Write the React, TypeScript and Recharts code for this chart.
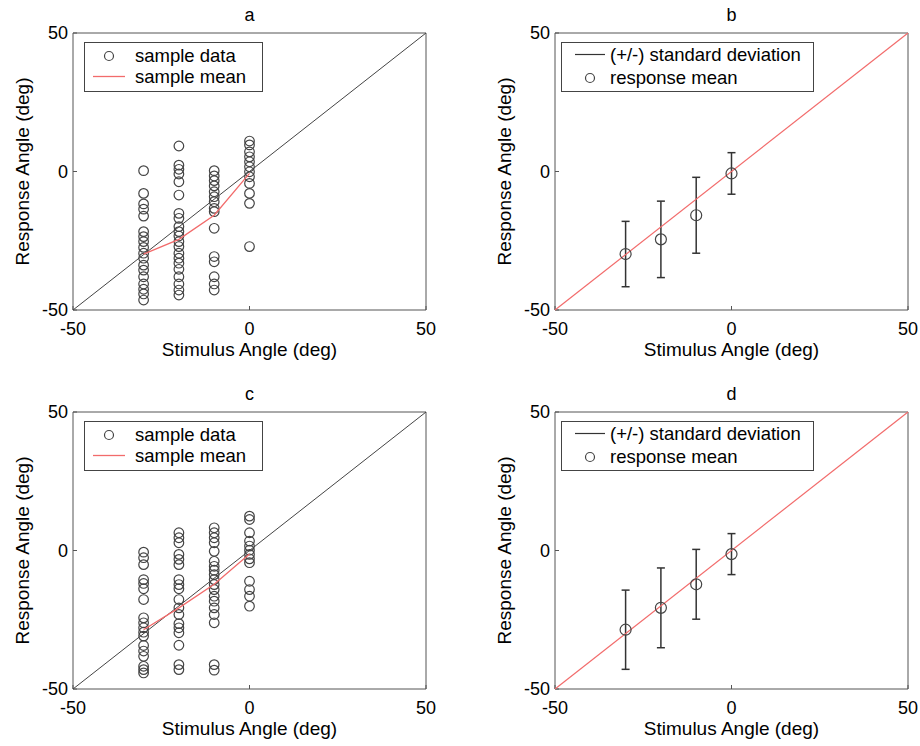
import { ScatterChart, Scatter, XAxis, YAxis, ErrorBar, Label } from "recharts"

const stimulusLevels = [-30, -20, -10, 0]
const axisTicks = [-50, 0, 50]
const identityEnds = [-50, 50]

// raw responses for the first condition, one list per stimulus level
const responsesA = [
  [0.3, -7.9, -11.7, -13.6, -16.1, -21.7, -23.5, -25.3, -27.4, -29.5, -31.3, -33.8, -35.6, -38, -40.6, -42.5, -44.2, -46.4],
  [9.2, 2.3, 0.8, -0.9, -3.7, -8.5, -15.1, -16.9, -19.9, -21.7, -23.3, -25.3, -27.1, -29.5, -31.3, -33.1, -35.3, -38, -40.6, -42.8, -44.6],
  [0.3, -1.6, -3.3, -5.2, -7.3, -9.1, -10.9, -13.3, -14.5, -20.5, -30.7, -32.6, -38, -40.6, -42.8],
  [11, 9.6, 7.1, 5.3, 3.5, 1.7, -0.1, -1.9, -4.3, -7.9, -11.5, -27.1],
]

// raw responses for the second condition
const responsesC = [
  [-0.6, -2.6, -5.1, -10.5, -11.9, -13.8, -17.7, -24.3, -26.1, -27.9, -29.5, -30.9, -34.3, -36.3, -38.2, -41.8, -43, -44.2],
  [6.4, 4.6, 2.8, -1.4, -3.2, -5.1, -10.5, -12.3, -13.8, -17.7, -20.7, -23.1, -26.4, -27.9, -29.7, -34.2, -41.2, -43],
  [8.2, 6.4, 4.6, 2.8, -0.3, -3.9, -5.7, -7.1, -8.7, -10.5, -12.3, -14.1, -16.5, -18.3, -20.7, -23.1, -26.1, -41.2, -43.2],
  [12.4, 11.2, 6.4, 3.4, 1.6, 0.1, -1.4, -3, -4.4, -11.1, -14.1, -16.5, -20.1],
]

const meanA = [-29.8, -24.5, -15.8, -0.7]
const stdA = [11.8, 13.8, 13.7, 7.5]
const meanC = [-28.6, -20.7, -12.2, -1.3]
const stdC = [14.3, 14.4, 12.6, 7.4]

const FONT = '"Liberation Sans", Arial, Helvetica, sans-serif'
const frameColor = "#555"
const redLine = "#f26b6b"

const toPoints = (lists: number[][]) =>
  lists.flatMap((list, i) => list.map((y) => ({ x: stimulusLevels[i], y })))
const meanPoints = (means: number[], stds?: number[]) =>
  means.map((y, i) => ({ x: stimulusLevels[i], y, err: stds ? stds[i] : 0 }))
const identity = identityEnds.map((v) => ({ x: v, y: v }))

const noShape = () => <g />
const openCircle = (r: number) => (p: any) =>
  <circle cx={p.cx} cy={p.cy} r={r} fill="none" stroke="#444" strokeWidth={1.2} />

// bottom/left axes carry labels, top/right ones only close the box
const renderAxes = (title: string) => [
  <XAxis key="xb" type="number" dataKey="x" domain={[-50, 50]} ticks={axisTicks} height={50}
    tickSize={-4} tickMargin={16} stroke={frameColor} tick={{ fill: "#000", fontSize: 18 }}>
    <Label value="Stimulus Angle (deg)" position="insideBottom" offset={4} fill="#000" fontSize={19} />
  </XAxis>,
  <XAxis key="xt" xAxisId="top" orientation="top" type="number" domain={[-50, 50]} ticks={axisTicks}
    height={1} tick={false} tickSize={-4} stroke={frameColor}>
    <Label value={title} position="top" offset={11} fill="#000" fontSize={18} />
  </XAxis>,
  <YAxis key="yl" type="number" dataKey="y" domain={[-50, 50]} ticks={axisTicks} width={60}
    tickSize={-4} tickMargin={9} stroke={frameColor} tick={{ fill: "#000", fontSize: 18 }}>
    <Label value="Response Angle (deg)" position="insideLeft" angle={-90} offset={9} fill="#000"
      fontSize={19} style={{ textAnchor: "middle" }} />
  </YAxis>,
  <YAxis key="yr" yAxisId="right" orientation="right" type="number" domain={[-50, 50]} ticks={axisTicks}
    width={1} tick={false} tickSize={-4} stroke={frameColor} />,
]

function SampleLegend({ x, y }: { x: number; y: number }) {
  return (
    <svg style={{ position: "absolute", left: x, top: y }} width={180} height={51}>
      <rect x={0.5} y={0.5} width={178} height={49} fill="#fff" stroke="#444" />
      <circle cx={25} cy={14} r={4.5} fill="none" stroke="#444" strokeWidth={1.2} />
      <text x={51} y={14} dy="0.35em" fontSize={18.5} fontFamily={FONT}>sample data</text>
      <line x1={9} x2={41} y1={34.5} y2={34.5} stroke={redLine} strokeWidth={1.3} />
      <text x={51} y={34.5} dy="0.35em" fontSize={18.5} fontFamily={FONT}>sample mean</text>
    </svg>
  )
}

function SummaryLegend({ x, y }: { x: number; y: number }) {
  return (
    <svg style={{ position: "absolute", left: x, top: y }} width={254} height={51}>
      <rect x={0.5} y={0.5} width={252} height={49} fill="#fff" stroke="#444" />
      <line x1={14} x2={44} y1={12.5} y2={12.5} stroke="#333" strokeWidth={1.2} />
      <text x={49} y={12.5} dy="0.35em" fontSize={18.5} fontFamily={FONT}>(+/-) standard deviation</text>
      <circle cx={29} cy={36} r={4.5} fill="none" stroke="#444" strokeWidth={1.2} />
      <text x={49} y={36} dy="0.35em" fontSize={18.5} fontFamily={FONT}>response mean</text>
    </svg>
  )
}

function SamplePanel({ top, title, responses, means }: { top: number; title: string; responses: number[][]; means: number[] }) {
  return (
    <div style={{ position: "absolute", left: 0, top, width: 460, height: 373 }}>
      <ScatterChart width={460} height={373} margin={{ top: 32, right: 33, bottom: 13, left: 13 }}>
        {renderAxes(title)}
        <Scatter data={toPoints(responses)} shape={openCircle(4.8)} isAnimationActive={false} />
        <Scatter data={identity} line={{ stroke: "#444", strokeWidth: 1 }} shape={noShape} isAnimationActive={false} />
        <Scatter data={meanPoints(means)} line={{ stroke: redLine, strokeWidth: 1.3 }} shape={noShape} isAnimationActive={false} />
      </ScatterChart>
      <SampleLegend x={84} y={42} />
    </div>
  )
}

function SummaryPanel({ top, title, means, stds }: { top: number; title: string; means: number[]; stds: number[] }) {
  return (
    <div style={{ position: "absolute", left: 482, top, width: 438, height: 373 }}>
      <ScatterChart width={438} height={373} margin={{ top: 32, right: 11, bottom: 13, left: 13 }}>
        {renderAxes(title)}
        <Scatter data={identity} line={{ stroke: redLine, strokeWidth: 1.2 }} shape={noShape} isAnimationActive={false} />
        <Scatter data={meanPoints(means, stds)} shape={openCircle(5.5)} isAnimationActive={false}>
          <ErrorBar dataKey="err" direction="y" width={4} stroke="#333" strokeWidth={1.5} />
        </Scatter>
      </ScatterChart>
      <SummaryLegend x={79} y={42} />
    </div>
  )
}

export default function App() {
  return (
    <div style={{ position: "absolute", left: 0, top: 0, width: 920, height: 746, background: "#fff", fontFamily: FONT }}>
      <SamplePanel top={0} title="a" responses={responsesA} means={meanA} />
      <SummaryPanel top={0} title="b" means={meanA} stds={stdA} />
      <SamplePanel top={379} title="c" responses={responsesC} means={meanC} />
      <SummaryPanel top={379} title="d" means={meanC} stds={stdC} />
    </div>
  )
}
